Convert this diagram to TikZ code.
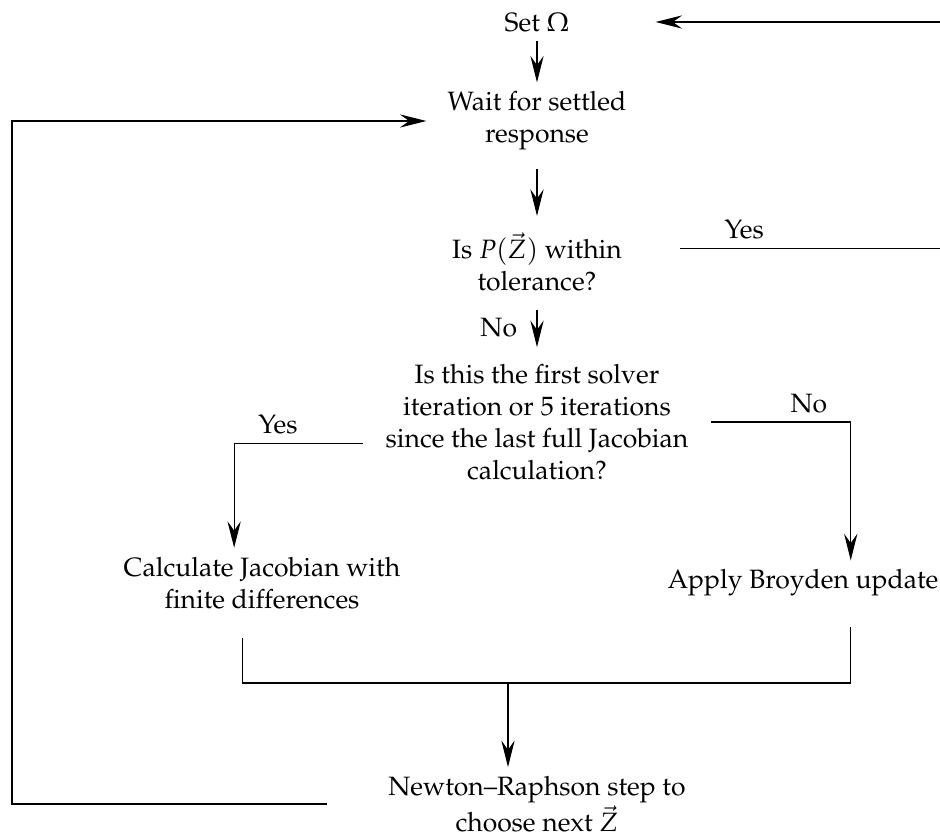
\documentclass[tikz,border=0pt]{standalone}
\usepackage[T1]{fontenc}
\usepackage{mathpazo}
\usetikzlibrary{arrows.meta}

\begin{document}
\begin{tikzpicture}[x=0.377pt, y=-0.377pt,
        blk/.style={align=center},
        arr/.style={-{Stealth[length=10pt, width=5pt, inset=3.5pt]}}]
        \useasboundingbox (0,0) rectangle (940,839);
        \node[blk] (set) at (537,22) {Set $\Omega$};
        \node[blk] (wait) at (537,121) {Wait for settled\\response};
        \node[blk] (tol) at (537,262) {Is $P(\vec{Z})$ within\\tolerance?};
        \node[blk] (first) at (537,422) {Is this the first solver\\iteration or 5 iterations\\since the last full Jacobian\\calculation?};
        \node[blk] (fd) at (262,583) {Calculate Jacobian with\\finite differences};
        \node[blk] (broy) at (803,583) {Apply Broyden update};
        \node[blk] (newt) at (537,804) {Newton--Raphson step to\\choose next $\vec{Z}$};
        \coordinate (lft) at (12,0);
        \coordinate (merge) at (508,683);
        % main line
        \draw[arr] (set) -- (wait);
        \draw[arr, shorten <=3.5pt, shorten >=3pt] (wait) -- (tol);
        \draw[arr, shorten <=3.5pt, shorten >=3pt] (tol) -- node[left=4pt]{No} (first);
        \draw[arr] ([shift={(18.5pt,5pt)}]tol.east) -- node[above, pos=0.24]{Yes} ++(266,0) |- ([xshift=29pt]set.east);
        % jacobian choice
        \draw[arr] ([shift={(-5pt,-8pt)}]first.west) -| node[above, pos=0.33]{Yes} ([xshift=-10.5pt]fd.north);
        \draw[arr] ([xshift=5pt]first.east) -| node[above, pos=0.35]{No} ([xshift=18pt]broy.north);
        \draw ([shift={(-7.5pt,-7.5pt)}]fd.south) |- (merge) -| ([shift={(18pt,-8pt)}]broy.south);
        \draw[arr] (merge) -- (merge |- newt.north);
        % loop back
        \draw[arr] ([xshift=-19.5pt]newt.west) -| (lft |- wait.west) -- ([xshift=-4.5pt]wait.west);
      \end{tikzpicture}
\end{document}
